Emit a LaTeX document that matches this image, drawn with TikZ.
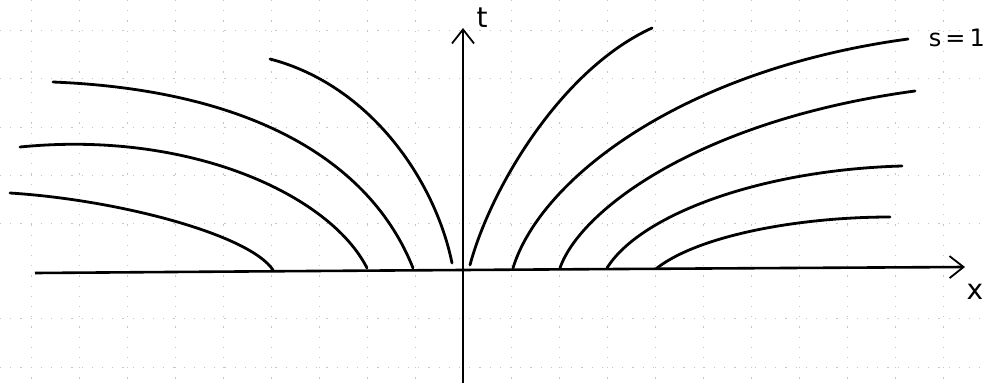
\documentclass[tikz,border=0pt]{standalone}
\usepackage{fontspec}
\setmainfont{DejaVu Sans}
\usetikzlibrary{arrows.meta}
\begin{document}
\begin{tikzpicture}[x=1pt,y=-1pt,
  gridline/.style={gray!45,line width=0.6pt,dash pattern=on 1.2pt off 9pt},
  axisline/.style={line width=2.6pt,-{Straight Barb[length=14pt,width=22pt,line width=1.8pt]}},
  charline/.style={line width=2.8pt,line cap=round,line join=round},
  lbl/.style={inner sep=0pt,font=\fontsize{28}{28}\selectfont}
]
\useasboundingbox (0,0) rectangle (987,383);
% grid
\foreach \gx in {31,79,127,175,223,271,319,367,415,511,559,607,655,703,751,799,847,895,943}
  \draw[gridline] (\gx,0) -- (\gx,383);
\foreach \gy in {30,78,127,175,223,318,367}
  \draw[gridline] (0,\gy) -- (987,\gy);
% axes
\coordinate (xs) at (35,273);
\coordinate (xe) at (965,267);
\coordinate (ts) at (463,383);
\coordinate (te) at (463,28);
\draw[axisline] (xs) .. controls (300,271) and (600,269) .. (xe);
\draw[axisline] (ts) -- (te);
% labels
\node[lbl] (tl) at (482,18) {t};
\node[lbl] (xl) at (975,292) {x};
\node[lbl,anchor=east,font=\fontsize{24}{24}\selectfont] (sl) at (985,38) {s\,=\,1};
% right characteristics
\draw[charline] (470,265) .. controls (490,190) and (560,70) .. (652,28);
\draw[charline] (513,268) .. controls (540,180) and (680,70) .. (908,39);
\draw[charline] (560,268) .. controls (580,210) and (700,120) .. (915,91);
\draw[charline] (607,268) .. controls (640,215) and (760,170) .. (902,166);
\draw[charline] (657,268) .. controls (700,235) and (800,217) .. (890,217);
% left characteristics
\draw[charline] (452,263) .. controls (435,180) and (370,85) .. (270,59);
\draw[charline] (413,268) .. controls (370,160) and (250,90) .. (53,82);
\draw[charline] (367,268) .. controls (330,195) and (190,130) .. (20,147);
\draw[charline] (273,270) .. controls (250,235) and (120,200) .. (10,193);
\end{tikzpicture}
\end{document}
